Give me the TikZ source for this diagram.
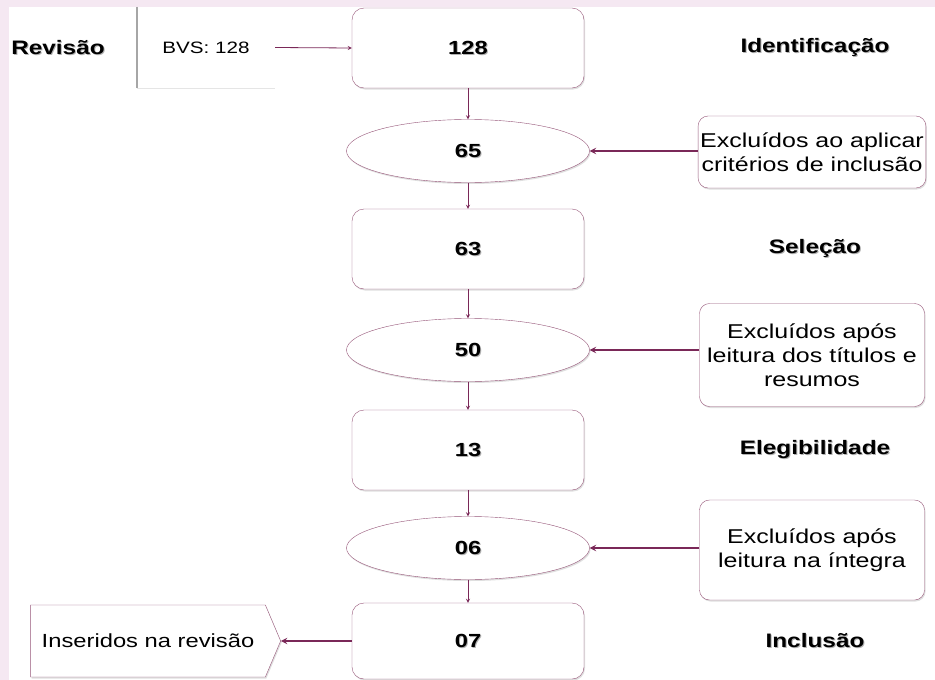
\documentclass[tikz,border=0pt]{standalone}
\usepackage{fontspec}
\setmainfont[FakeStretch=1.25]{Liberation Sans}
\usetikzlibrary{shapes.geometric,shapes.symbols,shadows}

\definecolor{plum}{RGB}{122,40,88}
\definecolor{boxline}{RGB}{150,85,120}
\definecolor{framepink}{RGB}{245,232,242}

% bold labels carry a soft dark shadow
\newcommand{\glowtext}[1]{\rlap{\kern1pt\raisebox{-1pt}{\textcolor{black!30}{#1}}}#1}

\begin{document}
\begin{tikzpicture}[
  x=1pt, y=-1pt,
  stage/.style={draw=boxline, fill=white, rounded corners=12pt,
    minimum width=232pt, minimum height=80pt, inner sep=0pt,
    font=\fontsize{19}{21}\selectfont\bfseries,
    drop shadow={opacity=0.25, shadow xshift=1pt, shadow yshift=-1.5pt}},
  count/.style={ellipse, draw=boxline, fill=white, inner sep=0pt,
    minimum width=243pt, minimum height=63pt,
    font=\fontsize{19}{21}\selectfont\bfseries,
    drop shadow={opacity=0.25, shadow xshift=1pt, shadow yshift=-1.5pt}},
  excl/.style={draw=boxline, fill=white, rounded corners=10pt,
    minimum width=225pt, align=center, inner xsep=2pt,
    font=\fontsize{20}{24}\selectfont,
    drop shadow={opacity=0.25, shadow xshift=1pt, shadow yshift=-1.5pt}},
  phase/.style={font=\fontsize{19.5}{21}\selectfont\bfseries},
  flow/.style={->, >=stealth, draw=plum, line width=0.8pt},
  cut/.style={->, >=stealth, draw=plum, line width=1.8pt},
]
  \useasboundingbox (0,0) rectangle (935,680);
  % page frame
  \fill[framepink] (0,0) rectangle (935,680);
  \fill[white] (9,7) rectangle (935,680);

  % source
  \node[phase] (rev) at (58,48) {\glowtext{Revisão}};
  \node[fill=white, minimum width=138pt, minimum height=81pt,
    font=\fontsize{16.5}{18}\selectfont] (bvs) at (206,47.5) {BVS: 128};
  \draw[black!35, line width=1.5pt] (bvs.north west) -- (bvs.south west);
  \draw[black!10, line width=1pt] (bvs.south west) -- (bvs.south east);

  % main column
  \node[stage] (n128) at (468,48) {\glowtext{128}};
  \node[count] (n65) at (468,151) {\glowtext{65}};
  \node[stage] (n63) at (468,249) {\glowtext{63}};
  \node[count] (n50) at (468,350) {\glowtext{50}};
  \node[stage] (n13) at (468,450) {\glowtext{13}};
  \node[count] (n06) at (468,548) {\glowtext{06}};
  \node[stage, minimum height=76pt] (n07) at (468,641) {\glowtext{07}};

  \draw[flow] (bvs.east) -- (n128.west);
  \foreach \a/\b in {n128/n65, n65/n63, n63/n50, n50/n13, n13/n06, n06/n07}
    \draw[flow] (\a) -- (\b);

  % phases
  \node[phase] (idf) at (815,48) {\glowtext{Identificação}};
  \node[phase] (sel) at (815,249) {\glowtext{Seleção}};
  \node[phase] (ele) at (815,450) {\glowtext{Elegibilidade}};
  \node[phase] (inc) at (815,641) {\glowtext{Inclusão}};

  % exclusions
  \node[excl, minimum height=72pt] (x1) at (812,152) {Excluídos ao aplicar\\critérios de inclusão};
  \node[excl, minimum height=103pt] (x2) at (812,355) {Excluídos após\\leitura dos títulos e\\resumos};
  \node[excl, minimum height=100pt] (x3) at (812,550) {Excluídos após\\leitura na íntegra};
  \draw[cut] (x1.west |- n65) -- (n65.east);
  \draw[cut] (x2.west |- n50) -- (n50.east);
  \draw[cut] (x3.west |- n06) -- (n06.east);

  % included
  \node[signal, signal to=east, signal pointer angle=134, draw=boxline, fill=white,
    minimum width=250pt, minimum height=72pt, inner sep=0pt,
    font=\fontsize{19}{22}\selectfont,
    drop shadow={opacity=0.25, shadow xshift=1pt, shadow yshift=-1.5pt}] (ins) at (148,641) {Inseridos na revisão};
  \draw[cut] (n07.west) -- (ins.east);
\end{tikzpicture}
\end{document}
